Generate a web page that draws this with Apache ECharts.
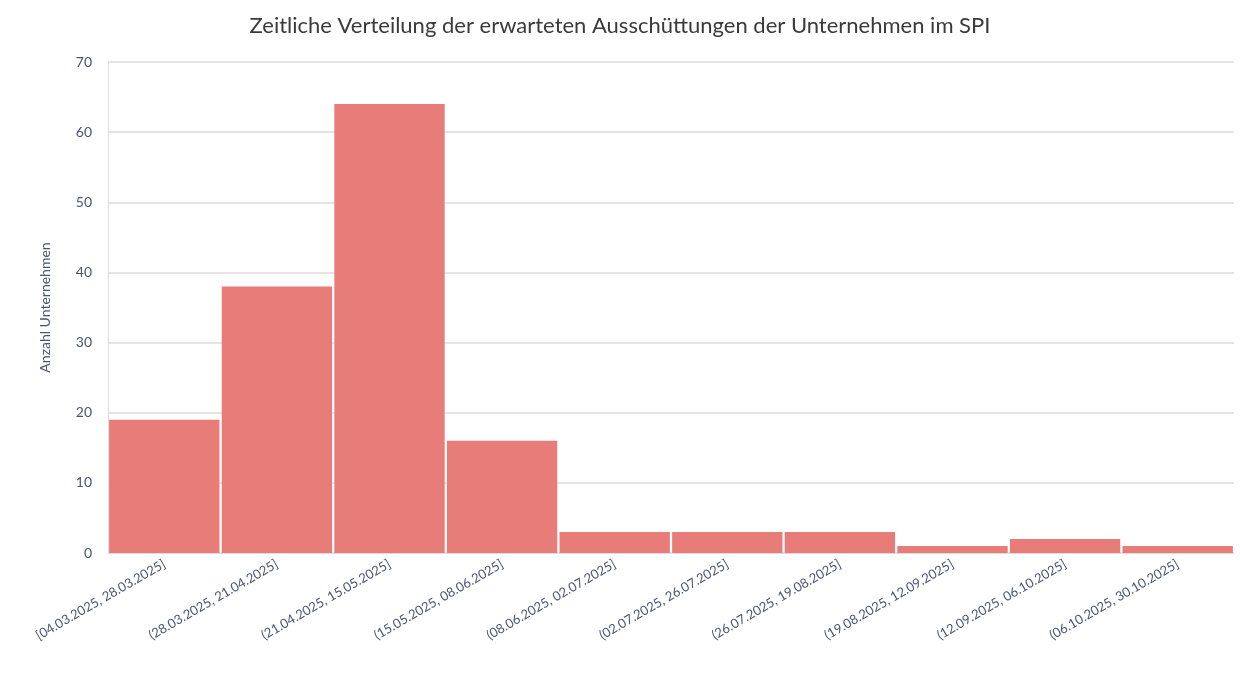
<!DOCTYPE html>
<html>
<head>
<meta charset="utf-8">
<script src="https://cdn.jsdelivr.net/npm/echarts@6/dist/echarts.min.js"></script>
<style>html,body{margin:0;padding:0;background:#fff}#chart{width:1240px;height:681px}</style>
</head>
<body>
<div id="chart"></div>
<script>
var categories = ['[04.03.2025, 28.03.2025]', '(28.03.2025, 21.04.2025]', '(21.04.2025, 15.05.2025]',
    '(15.05.2025, 08.06.2025]', '(08.06.2025, 02.07.2025]', '(02.07.2025, 26.07.2025]',
    '(26.07.2025, 19.08.2025]', '(19.08.2025, 12.09.2025]', '(12.09.2025, 06.10.2025]',
    '(06.10.2025, 30.10.2025]'];
var counts = [19, 38, 64, 16, 3, 3, 3, 1, 2, 1];

var myChart = echarts.init(document.getElementById('chart'));
var font = 'Lato, "Open Sans", sans-serif';
myChart.setOption({
    animation: false,
    title: {
        text: 'Zeitliche Verteilung der erwarteten Ausschüttungen der Unternehmen im SPI',
        left: 'center',
        top: 10,
        textStyle: {fontFamily: font, fontWeight: 'normal', fontSize: 22, color: '#3a3a3a'}
    },
    grid: {left: 108, right: 6, top: 62, bottom: 128},
    xAxis: {
        type: 'category',
        data: categories,
        axisLine: {lineStyle: {color: '#dddddd'}},
        axisTick: {show: false},
        axisLabel: {rotate: 30, interval: 0, fontFamily: font, fontSize: 13, color: '#4a5570', margin: 10}
    },
    yAxis: {
        type: 'value',
        min: 0, max: 70, interval: 10,
        name: 'Anzahl Unternehmen',
        nameLocation: 'center',
        nameGap: 56,
        nameTextStyle: {fontFamily: font, fontSize: 14, color: '#4a5570'},
        axisLine: {show: true, lineStyle: {color: '#dddddd'}},
        axisLabel: {fontFamily: font, fontSize: 14, color: '#4a5570', margin: 16},
        splitLine: {lineStyle: {color: '#e4e4e4', width: 2}}
    },
    series: [{
        type: 'bar',
        data: counts,
        barCategoryGap: '2%',
        itemStyle: {color: '#e77c78'}
    }]
});
</script>
</body>
</html>
